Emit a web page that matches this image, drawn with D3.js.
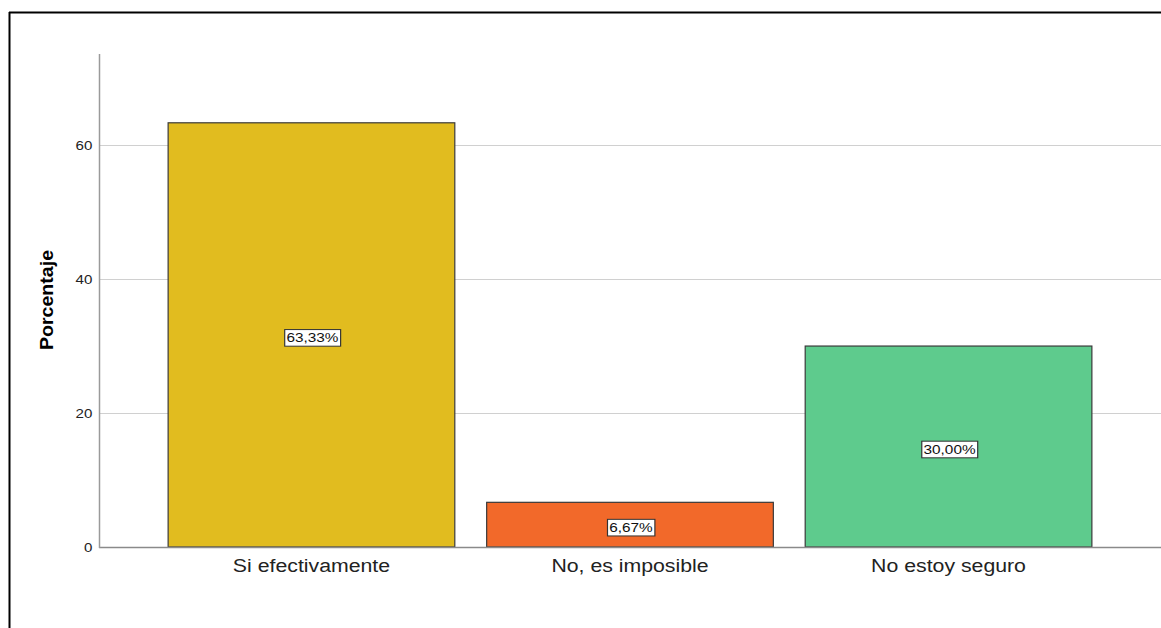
<!DOCTYPE html>
<html><head><meta charset="utf-8">
<script src="https://cdn.jsdelivr.net/npm/d3@7"></script>
<style>body{margin:0;background:#fff}svg{display:block;font-family:"Liberation Sans",Arial,sans-serif}</style>
</head><body>
<script>
const categories = ["Si efectivamente", "No, es imposible", "No estoy seguro"];
const values = [63.33, 6.67, 30.00];
const labels = ["63,33%", "6,67%", "30,00%"];
const colors = ["#E1BC1F", "#F2692A", "#5ECB8D"];
const yTicks = [0, 20, 40, 60];

const W = 1161, H = 628;
const svg = d3.select("body").append("svg").attr("width", W).attr("height", H);

// frame
svg.append("line").attr("x1", 9).attr("x2", W).attr("y1", 12.5).attr("y2", 12.5).attr("stroke", "#000").attr("stroke-width", 2);
svg.append("line").attr("x1", 9.5).attr("x2", 9.5).attr("y1", 12).attr("y2", H).attr("stroke", "#000").attr("stroke-width", 2);

const mLeft = 99, mRight = 1161, mTop = 54, mBottom = 547;
const y = d3.scaleLinear().domain([0, 73.6]).range([mBottom, mTop]);
const x = d3.scaleBand().domain(categories).range([mLeft, mRight]).paddingInner(0.1).paddingOuter(0.217);

// gridlines
svg.append("g").selectAll("line").data(yTicks.filter(d => d > 0)).join("line")
  .attr("x1", mLeft).attr("x2", mRight)
  .attr("y1", d => Math.round(y(d)) + 0.5).attr("y2", d => Math.round(y(d)) + 0.5)
  .attr("stroke", "#d0d0d0").attr("stroke-width", 1.2);

// bars
svg.append("g").selectAll("rect").data(values).join("rect")
  .attr("x", (d, i) => x(categories[i]))
  .attr("y", d => y(d))
  .attr("width", x.bandwidth())
  .attr("height", d => y(0) - y(d))
  .attr("fill", (d, i) => colors[i])
  .attr("stroke", "#3a3a3a").attr("stroke-width", 1.2);

// baseline
svg.append("line").attr("x1", mLeft).attr("x2", mRight).attr("y1", mBottom + 0.5).attr("y2", mBottom + 0.5)
  .attr("stroke", "#8a8a8a").attr("stroke-width", 1.5);
// y axis line
svg.append("line").attr("x1", mLeft + 0.5).attr("x2", mLeft + 0.5).attr("y1", mTop).attr("y2", mBottom + 1)
  .attr("stroke", "#9a9a9a").attr("stroke-width", 1.5);

// y axis tick labels
const yAxis = d3.axisLeft(y).tickValues(yTicks).tickSize(0).tickPadding(6);
const ya = svg.append("g").attr("transform", `translate(${mLeft},0)`).call(yAxis);
ya.select(".domain").remove();
ya.selectAll("text").attr("font-size", 13.5).attr("fill", "#222")
  .attr("font-family", "Liberation Sans, Arial, sans-serif").attr("transform", "scale(1.12,1)");

// x axis labels
const xAxis = d3.axisBottom(x).tickSize(0).tickPadding(12);
const xa = svg.append("g").attr("transform", `translate(0,${mBottom})`).call(xAxis);
xa.select(".domain").remove();
xa.selectAll("text").attr("font-size", 19).attr("fill", "#222")
  .attr("font-family", "Liberation Sans, Arial, sans-serif").attr("transform", "scale(1.12,1)");

// y title
svg.append("text").attr("transform", `translate(53,300) rotate(-90) scale(1.12,1)`)
  .attr("text-anchor", "middle").attr("font-size", 17.5).attr("font-weight", "bold").attr("fill", "#000")
  .text("Porcentaje");

// value labels
const lg = svg.append("g").selectAll("g").data(values).join("g")
  .attr("transform", (d, i) => `translate(${x(categories[i]) + x.bandwidth() / 2 + 1},${(y(d) + y(0)) / 2 + 3}) scale(1.18,1)`);
lg.each(function(d, i) {
  const g = d3.select(this);
  const t = g.append("text").attr("text-anchor", "middle").attr("dy", "0.35em")
    .attr("font-size", 13).attr("fill", "#111").text(labels[i]);
  const bb = t.node().getBBox();
  g.insert("rect", "text").attr("x", bb.x - 1.5).attr("y", bb.y - 1).attr("width", bb.width + 3).attr("height", bb.height + 2)
    .attr("fill", "#fff").attr("stroke", "#333").attr("stroke-width", 1);
});
</script>
</body></html>
